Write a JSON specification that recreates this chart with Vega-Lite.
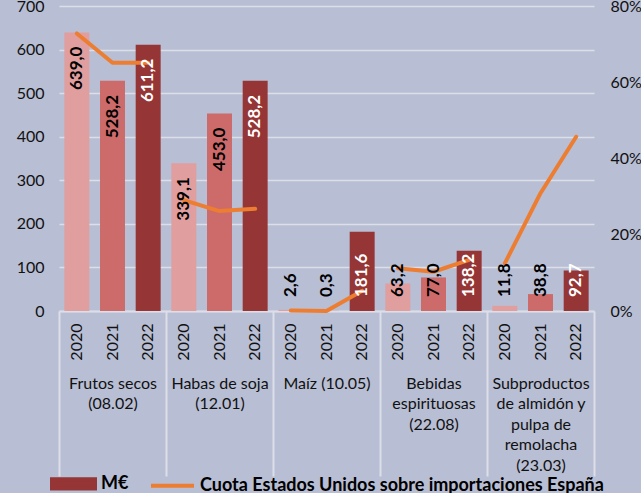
{
  "$schema": "https://vega.github.io/schema/vega-lite/v6.json",
  "width": 535,
  "height": 305,
  "autosize": {"type": "none"},
  "padding": {"left": 59, "top": 6, "right": 47, "bottom": 182},
  "background": "#b8bed3",
  "config": {
    "view": {"stroke": null},
    "font": "Lato",
    "locale": {"number": {"decimal": ",", "thousands": ".", "grouping": [3], "currency": ["", " €"]}},
    "axis": {"labelFont": "Lato", "labelFontSize": 16, "labelColor": "#111111", "domain": false, "ticks": false, "grid": false, "title": null}
  },
  "data": {
    "values": [
      {"cat": "Frutos secos|(08.02)", "year": "2020", "key": "F-2020", "value": 639.0, "share": 0.728},
      {"cat": "Frutos secos|(08.02)", "year": "2021", "key": "F-2021", "value": 528.2, "share": 0.651},
      {"cat": "Frutos secos|(08.02)", "year": "2022", "key": "F-2022", "value": 611.2, "share": 0.651},
      {"cat": "Habas de soja|(12.01)", "year": "2020", "key": "H-2020", "value": 339.1, "share": 0.291},
      {"cat": "Habas de soja|(12.01)", "year": "2021", "key": "H-2021", "value": 453.0, "share": 0.262},
      {"cat": "Habas de soja|(12.01)", "year": "2022", "key": "H-2022", "value": 528.2, "share": 0.268},
      {"cat": "Maíz (10.05)", "year": "2020", "key": "M-2020", "value": 2.6, "share": 0.001},
      {"cat": "Maíz (10.05)", "year": "2021", "key": "M-2021", "value": 0.3, "share": 0.0},
      {"cat": "Maíz (10.05)", "year": "2022", "key": "M-2022", "value": 181.6, "share": 0.053},
      {"cat": "Bebidas|espirituosas|(22.08)", "year": "2020", "key": "B-2020", "value": 63.2, "share": 0.112},
      {"cat": "Bebidas|espirituosas|(22.08)", "year": "2021", "key": "B-2021", "value": 77.0, "share": 0.103},
      {"cat": "Bebidas|espirituosas|(22.08)", "year": "2022", "key": "B-2022", "value": 138.2, "share": 0.134},
      {"cat": "Subproductos|de almidón y|pulpa de|remolacha|(23.03)", "year": "2020", "key": "S-2020", "value": 11.8, "share": 0.125},
      {"cat": "Subproductos|de almidón y|pulpa de|remolacha|(23.03)", "year": "2021", "key": "S-2021", "value": 38.8, "share": 0.309},
      {"cat": "Subproductos|de almidón y|pulpa de|remolacha|(23.03)", "year": "2022", "key": "S-2022", "value": 92.7, "share": 0.457}
    ]
  },
  "layer": [
    {
      "layer": [
        {
          "mark": {"type": "bar"},
          "encoding": {
            "x": {
              "field": "key", "type": "nominal", "sort": null,
              "scale": {"type": "band", "paddingInner": 0.3, "paddingOuter": 0.15},
              "axis": {"orient": "bottom", "title": null, "labelExpr": "slice(datum.value, -4)", "labelAngle": 270, "labelAlign": "right", "labelBaseline": "middle", "labelPadding": 12, "domain": true, "domainColor": "#dcdee8", "domainWidth": 2}
            },
            "y": {
              "field": "value", "type": "quantitative",
              "scale": {"domain": [0, 700]},
              "axis": {"orient": "left", "title": null, "values": [0, 100, 200, 300, 400, 500, 600, 700], "grid": true, "gridColor": "#dcdee8", "gridWidth": 1.5, "labelPadding": 15}
            },
            "fill": {"field": "year", "type": "nominal", "scale": {"domain": ["2020", "2021", "2022"], "range": ["#e09e9e", "#cd6a6a", "#963535"]}, "legend": null}
          }
        },
        {
          "mark": {"type": "line", "strokeWidth": 4, "strokeCap": "round", "strokeJoin": "round"},
          "encoding": {
            "x": {"field": "key", "type": "nominal", "sort": null},
            "y": {
              "field": "share", "type": "quantitative",
              "scale": {"domain": [0, 0.8]},
              "axis": {"orient": "right", "title": null, "values": [0, 0.2, 0.4, 0.6, 0.8], "format": ".0%", "labelPadding": 16, "grid": false}
            },
            "detail": {"field": "cat"},
            "stroke": {
              "datum": "Cuota Estados Unidos sobre importaciones España",
              "scale": {"domain": ["M€", "Cuota Estados Unidos sobre importaciones España"], "range": ["#963535", "#ed7d31"]},
              "legend": {
                "orient": "none", "legendX": -9, "legendY": 454, "direction": "horizontal", "title": null,
                "symbolSize": 1849, "labelFont": "Lato", "labelFontSize": 18, "labelFontWeight": "bold", "labelColor": "#000000",
                "labelLimit": 600, "labelOffset": 4, "columnPadding": 14, "padding": 0,
                "encode": {
                  "symbols": {
                    "update": {
                      "shape": {"signal": "datum.value === 'M€' ? 'M-1,-0.22H1V0.22H-1Z' : 'M-1,0H1'"},
                      "fill": {"signal": "datum.value === 'M€' ? '#963535' : 'transparent'"},
                      "stroke": {"signal": "datum.value === 'M€' ? 'transparent' : '#ed7d31'"},
                      "strokeWidth": {"value": 4}
                    }
                  }
                }
              }
            }
          }
        }
      ],
      "resolve": {"scale": {"y": "independent"}}
    },
    {
      "layer": [
        {
          "transform": [{"filter": "datum.value >= 200"}],
          "mark": {"type": "text", "angle": 270, "align": "right", "baseline": "middle", "dx": -14, "font": "Lato", "fontSize": 17, "fontWeight": "bold"},
          "encoding": {
            "x": {
              "field": "cat", "type": "nominal",
              "scale": {"type": "band", "domain": ["Frutos secos|(08.02)", "Habas de soja|(12.01)", "Maíz (10.05)", "Bebidas|espirituosas|(22.08)", "Subproductos|de almidón y|pulpa de|remolacha|(23.03)"], "paddingInner": 0, "paddingOuter": 0},
              "axis": {"orient": "bottom", "title": null, "labelAngle": 0, "labelExpr": "datum.value ? split(datum.value, '|') : ''", "ticks": true, "tickBand": "extent", "tickSize": 165, "tickColor": "#dcdee8", "tickWidth": 2, "domain": false, "labelPadding": -101, "labelBaseline": "top", "labelAlign": "center", "labelLineHeight": 20.5, "labelFontSize": 16}
            },
            "xOffset": {"field": "year", "type": "nominal", "scale": {"type": "band", "domain": ["2020", "2021", "2022"], "paddingInner": 0.3, "paddingOuter": 0.15}},
            "y": {"field": "value", "type": "quantitative", "scale": {"domain": [0, 700]}, "axis": null},
            "text": {"field": "value", "type": "quantitative", "format": ".1f"},
            "color": {"condition": {"test": "datum.year === '2022'", "value": "#ffffff"}, "value": "#000000"}
          }
        },
        {
          "transform": [{"filter": "datum.value < 200"}],
          "mark": {"type": "text", "angle": 270, "align": "left", "baseline": "middle", "dx": 14, "font": "Lato", "fontSize": 17, "fontWeight": "bold"},
          "encoding": {
            "x": {
              "field": "cat", "type": "nominal",
              "scale": {"type": "band", "domain": ["Frutos secos|(08.02)", "Habas de soja|(12.01)", "Maíz (10.05)", "Bebidas|espirituosas|(22.08)", "Subproductos|de almidón y|pulpa de|remolacha|(23.03)"], "paddingInner": 0, "paddingOuter": 0}
            },
            "xOffset": {"field": "year", "type": "nominal", "scale": {"type": "band", "domain": ["2020", "2021", "2022"], "paddingInner": 0.3, "paddingOuter": 0.15}},
            "y": {"datum": 0, "type": "quantitative", "scale": {"domain": [0, 700]}, "axis": null},
            "text": {"field": "value", "type": "quantitative", "format": ".1f"},
            "color": {"condition": {"test": "datum.year === '2022'", "value": "#ffffff"}, "value": "#000000"}
          }
        }
      ]
    }
  ],
  "resolve": {"scale": {"x": "independent", "y": "independent"}}
}
